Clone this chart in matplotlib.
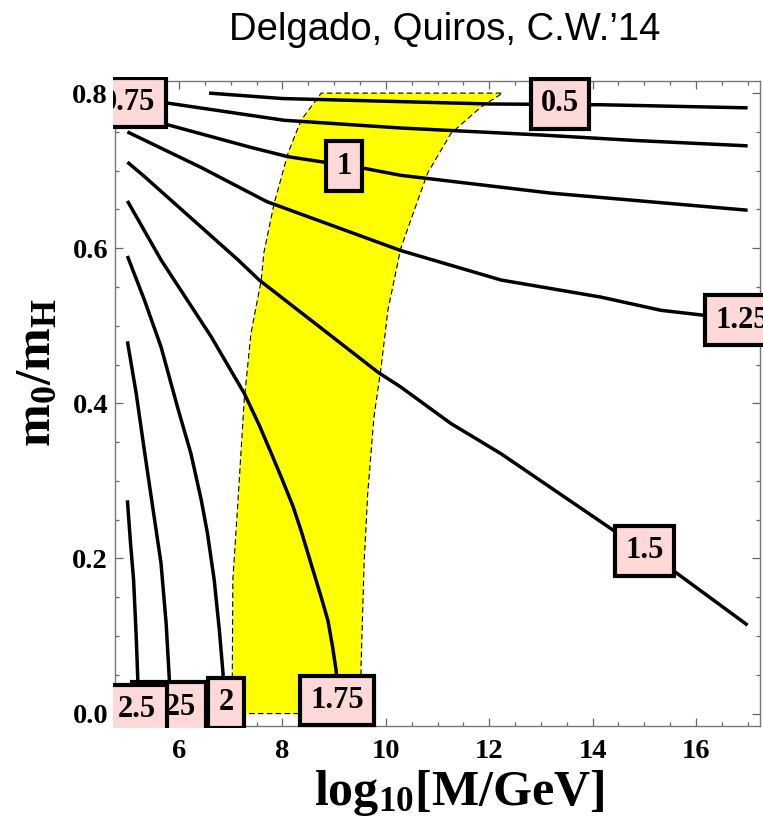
import matplotlib
matplotlib.use('Agg')
import matplotlib.pyplot as plt
from matplotlib.transforms import Bbox, TransformedBbox
from matplotlib.ticker import MultipleLocator

plt.rcParams['mathtext.fontset'] = 'custom'
plt.rcParams['mathtext.rm'] = 'Liberation Serif:bold'
plt.rcParams['mathtext.it'] = 'Liberation Serif:bold'
plt.rcParams['mathtext.bf'] = 'Liberation Serif:bold'

# contour lines (x = log10[M/GeV], y = m0/mH)
c050_x = [6.58, 8.0, 10.29, 12.0, 14.16, 17.0]
c050_y = [0.800, 0.793, 0.789, 0.786, 0.785, 0.781]
c075_x = [5.0, 5.79, 8.03, 10.29, 13.0, 14.8, 17.0]
c075_y = [0.795, 0.787, 0.765, 0.755, 0.746, 0.739, 0.732]
c100_x = [5.0, 5.79, 7.39, 8.11, 8.8, 9.58, 10.29, 13.2, 17.0]
c100_y = [0.773, 0.759, 0.730, 0.718, 0.711, 0.703, 0.694, 0.671, 0.649]
c125_x = [5.0, 6.43, 7.7, 10.29, 11.26, 12.23, 14.16, 15.32, 16.1, 17.0]
c125_y = [0.750, 0.704, 0.660, 0.597, 0.578, 0.559, 0.537, 0.520, 0.514, 0.505]
c150_x = [5.0, 5.32, 7.14, 7.55, 9.85, 10.29, 11.26, 12.23, 14.41, 15.61, 17.0]
c150_y = [0.711, 0.693, 0.585, 0.559, 0.44, 0.421, 0.374, 0.335, 0.236, 0.182, 0.114]
c175_x = [5.0, 5.65, 6.62, 7.26, 7.55, 7.8, 8.0, 8.2, 8.36, 8.55, 8.75, 8.88, 8.97, 9.04, 9.07]
c175_y = [0.661, 0.585, 0.486, 0.413, 0.372, 0.333, 0.301, 0.268, 0.236, 0.194, 0.150, 0.12, 0.086, 0.055, 0.0]
c200_x = [5.0, 5.33, 5.65, 5.97, 6.23, 6.43, 6.55, 6.68, 6.78, 6.85, 6.87]
c200_y = [0.590, 0.533, 0.473, 0.395, 0.335, 0.275, 0.232, 0.172, 0.107, 0.052, 0.0]
c225_x = [5.0, 5.17, 5.32, 5.49, 5.65, 5.75, 5.81, 5.83]
c225_y = [0.480, 0.413, 0.343, 0.266, 0.194, 0.116, 0.046, 0.0]
c250_x = [5.0, 5.06, 5.12, 5.17, 5.2, 5.21]
c250_y = [0.275, 0.22, 0.172, 0.1, 0.046, 0.0]

contours = [(c050_x, c050_y), (c075_x, c075_y), (c100_x, c100_y),
            (c125_x, c125_y), (c150_x, c150_y), (c175_x, c175_y),
            (c200_x, c200_y), (c225_x, c225_y), (c250_x, c250_y)]

# contour labels
lab_text = ['0.5', '0.75', '1', '1.25', '1.5', '1.75', '2.25', '2', '2.5']
lab_x = [13.37, 5.03, 9.19, 16.89, 15.01, 9.06, 5.81, 6.91, 5.19]
lab_y = [0.786, 0.788, 0.706, 0.507, 0.21, 0.017, 0.008, 0.014, 0.005]

# yellow band boundaries
band_left_x = [7.03, 7.03, 7.04, 7.14, 7.26, 7.39, 7.59, 7.64, 7.84, 8.11, 8.36, 8.75]
band_left_y = [0.0, 0.055, 0.172, 0.275, 0.404, 0.490, 0.559, 0.594, 0.658, 0.723, 0.765, 0.80]
band_right_x = [12.26, 11.84, 11.26, 10.81, 10.62, 10.29, 10.04, 9.91, 9.77, 9.65, 9.58, 9.52, 9.53]
band_right_y = [0.80, 0.782, 0.748, 0.697, 0.662, 0.60, 0.52, 0.447, 0.382, 0.284, 0.194, 0.059, 0.0]

fig = plt.figure(figsize=(7.63, 8.22), dpi=100)
ax = fig.add_axes([115 / 763, 1 - 726 / 822, 645 / 763, (726 - 80.7) / 822])

ax.fill(band_left_x + band_right_x, band_left_y + band_right_y,
        facecolor='#ffff00', edgecolor='black', linestyle=(0, (5, 3)),
        linewidth=0.8, zorder=1)

for cx, cy in contours:
    ax.plot(cx, cy, color='black', linewidth=2.5, zorder=2, solid_capstyle='butt')

clip = TransformedBbox(Bbox([[-0.003, -0.003], [1.01, 1.006]]), ax.transAxes)
for i, (t, x, y) in enumerate(zip(lab_text, lab_x, lab_y)):
    tx = ax.text(x, y, t, ha='center', va='center', fontsize=22,
                 family='Liberation Serif', weight='bold', zorder=5 + i,
                 bbox=dict(boxstyle='square,pad=0.34', facecolor='#ffd8d8',
                           edgecolor='black', linewidth=3))
    tx.set_clip_on(True)
    tx.set_clip_box(clip)

ax.set_xlim(4.76, 17.24)
ax.set_ylim(-0.016, 0.816)
ax.xaxis.set_minor_locator(MultipleLocator(0.5))
ax.yaxis.set_minor_locator(MultipleLocator(0.05))
ax.set_xticks([6, 8, 10, 12, 14, 16])
ax.set_yticks([0.0, 0.2, 0.4, 0.6, 0.8])
ax.set_yticklabels(['0.0', '0.2', '0.4', '0.6', '0.8'])
ax.tick_params(which='both', direction='in', top=True, right=True, color='#666666', width=0.9)
ax.tick_params(which='major', length=5.5)
ax.tick_params(which='minor', length=3)
ax.tick_params(axis='x', pad=9)
ax.tick_params(axis='y', pad=5)
for lab in ax.get_xticklabels() + ax.get_yticklabels():
    lab.set_family('Liberation Serif')
    lab.set_fontweight('bold')
    lab.set_fontsize(20.5)
for s in ax.spines.values():
    s.set_color('#777777')
    s.set_linewidth(1)

fig.text(445 / 763, 1 - 40 / 822, 'Delgado, Quiros, C.W.\u201914', ha='center', va='baseline',
         fontsize=27.5, family='Liberation Sans')
fig.text(459 / 763, 1 - 805 / 822, r'$\mathrm{log_{10}[M/GeV]}$', ha='center', va='baseline',
         fontsize=36)
fig.text(36 / 763, 1 - 372 / 822, r'$\mathrm{m_0/m_H}$', ha='center', va='center',
         fontsize=37, rotation=90)

fig.savefig('out.png', dpi=100)
